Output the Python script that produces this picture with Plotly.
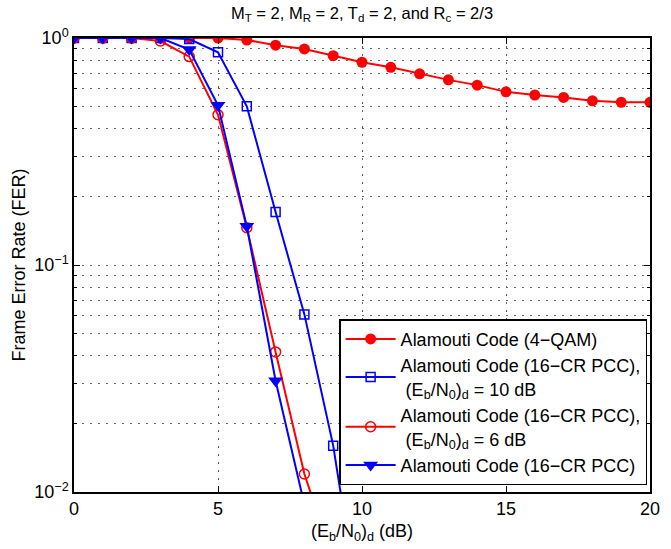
import plotly.graph_objects as go

snr = list(range(0, 21))
fer_qam = [1.0, 1.0, 1.0, 1.0, 1.0, 1.0, 0.98, 0.93, 0.895, 0.836, 0.782,
           0.743, 0.695, 0.654, 0.62, 0.579, 0.561, 0.547, 0.529, 0.521, 0.521]
snr_pcc10 = list(range(0, 11))
fer_pcc10 = [1.0, 1.0, 1.0, 1.0, 0.99, 0.865, 0.50, 0.171, 0.0606, 0.016, 0.0025]
snr_pcc6 = list(range(0, 10))
fer_pcc6 = [1.0, 1.0, 1.0, 0.97, 0.828, 0.459, 0.146, 0.0414, 0.012, 0.005]
snr_pcc = list(range(0, 9))
fer_pcc = [1.0, 1.0, 1.0, 1.0, 0.89, 0.505, 0.148, 0.0309, 0.0088]

names = [
    "Alamouti Code (4−QAM)",
    "Alamouti Code (16−CR PCC),<br> (E<sub>b</sub>/N<sub>0</sub>)<sub>d</sub> = 10 dB",
    "Alamouti Code (16−CR PCC),<br> (E<sub>b</sub>/N<sub>0</sub>)<sub>d</sub> = 6 dB",
    "Alamouti Code (16−CR PCC)",
]

RED = "#ff0000"
BLUE = "#0000ff"
FONT = "Liberation Sans, Arial, Helvetica, sans-serif"
GRID = "#666666"
GDASH = "1.5px,6.5px"

fig = go.Figure()
fig.add_trace(go.Scatter(x=snr, y=fer_qam, name=names[0], mode="lines+markers",
                         line=dict(color=RED, width=2),
                         marker=dict(symbol="circle", size=11, color=RED, line=dict(width=0))))
fig.add_trace(go.Scatter(x=snr_pcc10, y=fer_pcc10, name=names[1], mode="lines+markers",
                         line=dict(color=BLUE, width=2),
                         marker=dict(symbol="square-open", size=9, color=BLUE, line=dict(width=1.5))))
fig.add_trace(go.Scatter(x=snr_pcc6, y=fer_pcc6, name=names[2], mode="lines+markers",
                         line=dict(color=RED, width=2),
                         marker=dict(symbol="circle-open", size=10, color=RED, line=dict(width=1.5))))
fig.add_trace(go.Scatter(x=snr_pcc, y=fer_pcc, name=names[3], mode="lines+markers",
                         line=dict(color=BLUE, width=2),
                         marker=dict(symbol="triangle-down", size=13, color=BLUE, line=dict(width=0))))

fig.update_layout(
    width=671, height=549,
    margin=dict(l=74, r=11, t=38, b=56),
    paper_bgcolor="white", plot_bgcolor="white",
    font=dict(family=FONT, size=18, color="black"),
    title=dict(text="M<sub>T</sub> = 2, M<sub>R</sub> = 2, T<sub>d</sub> = 2, and R<sub>c</sub> = 2/3",
               x=0.5, xref="paper", y=1 - 13 / 549, yref="container", yanchor="middle",
               font=dict(size=16.5)),
    legend=dict(x=0.995, xanchor="right", y=0.015, yanchor="bottom",
                bgcolor="white", bordercolor="black", borderwidth=1.5,
                font=dict(size=18), itemwidth=50, valign="middle", tracegroupgap=0),
    showlegend=True,
)

fig.update_xaxes(
    range=[0, 20], tickvals=[0, 5, 10, 15, 20],
    ticks="inside", ticklen=6, tickcolor="black",
    showline=True, linecolor="black", linewidth=1.5, mirror="ticks",
    showgrid=True, gridcolor=GRID, griddash=GDASH, gridwidth=1,
    zeroline=False,
    title=dict(text="(E<sub>b</sub>/N<sub>0</sub>)<sub>d</sub> (dB)", standoff=6, font=dict(size=18)),
)
fig.update_yaxes(
    type="log", range=[-2, 0],
    tickvals=[1, 0.1, 0.01],
    ticktext=["10<sup>0</sup>", "10<sup>−2</sup>".replace("−2", "−1"), "10<sup>−2</sup>"],
    ticks="inside", ticklen=6, tickcolor="black",
    showline=True, linecolor="black", linewidth=1.5, mirror="ticks",
    showgrid=True, gridcolor=GRID, griddash=GDASH, gridwidth=1,
    minor=dict(dtick="D1", ticks="inside", ticklen=3, tickcolor="black",
               showgrid=True, gridcolor=GRID, griddash=GDASH, gridwidth=1),
    zeroline=False,
    title=dict(text="Frame Error Rate (FER)", standoff=4, font=dict(size=18)),
)

fig.write_html("out.html")
